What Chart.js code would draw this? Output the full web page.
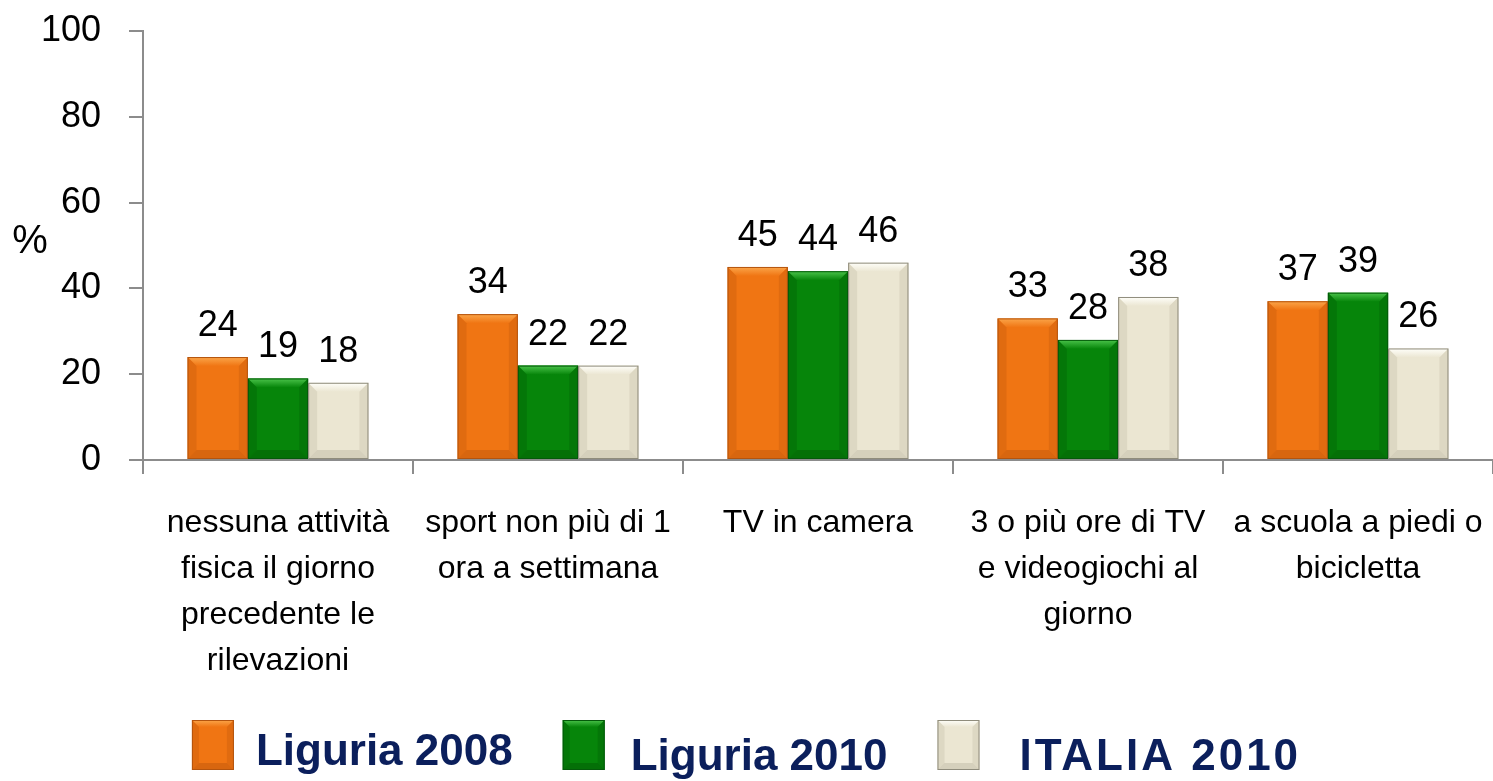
<!DOCTYPE html>
<html>
<head>
<meta charset="utf-8">
<script src="https://cdn.jsdelivr.net/npm/chart.js@4.4.0/dist/chart.umd.min.js"></script>
<style>
  html, body { margin: 0; padding: 0; background: #fff; }
  #wrap { width: 1493px; height: 781px; position: relative; }
</style>
</head>
<body>
<div id="wrap"><canvas id="grafico"></canvas></div>
<script>
const categorie = [
  ["nessuna attività", "fisica il giorno", "precedente le", "rilevazioni"],
  ["sport non più di 1", "ora a settimana"],
  ["TV in camera"],
  ["3 o più ore di TV", "e videogiochi al", "giorno"],
  ["a scuola a piedi o", "bicicletta"]
];
const serie = ["Liguria 2008", "Liguria 2010", "ITALIA 2010"];
const liguria2008 = [24, 34, 45, 33, 37];
const liguria2010 = [19, 22, 44, 28, 39];
const italia2010 = [18, 22, 46, 38, 26];
const yTicks = [0, 20, 40, 60, 80, 100];

// colori: pieno, luce (bordo alto), ombra (bordo basso), contorno
const colori = [
  { fill: "#F07513", light: "#FBA64A", dark: "#C45A0C", border: "#B4540E" },
  { fill: "#06850A", light: "#4BC44B", dark: "#035F05", border: "#04590A" },
  { fill: "#EBE6D2", light: "#FFFFFA", dark: "#C2BEAA", border: "#8F8C7C" }
];

const ASSE = "#8C8C8C";
const FONT = "'Liberation Sans', Arial, sans-serif";

function bevel(ctx, l, t, r, b, c, s) {
  if (b - t < s * 2) s = (b - t) / 2;
  ctx.save();
  // alto
  ctx.beginPath();
  ctx.moveTo(l, t); ctx.lineTo(r, t); ctx.lineTo(r - s, t + s); ctx.lineTo(l + s, t + s); ctx.closePath();
  const g = ctx.createLinearGradient(0, t, 0, t + s);
  g.addColorStop(0, c.light); g.addColorStop(1, c.fill);
  ctx.fillStyle = g; ctx.fill();
  // basso
  ctx.beginPath();
  ctx.moveTo(l, b); ctx.lineTo(r, b); ctx.lineTo(r - s, b - s); ctx.lineTo(l + s, b - s); ctx.closePath();
  ctx.globalAlpha = 0.55; ctx.fillStyle = c.dark; ctx.fill();
  // lati
  ctx.globalAlpha = 0.35;
  ctx.beginPath();
  ctx.moveTo(l, t); ctx.lineTo(l + s, t + s); ctx.lineTo(l + s, b - s); ctx.lineTo(l, b); ctx.closePath(); ctx.fill();
  ctx.beginPath();
  ctx.moveTo(r, t); ctx.lineTo(r - s, t + s); ctx.lineTo(r - s, b - s); ctx.lineTo(r, b); ctx.closePath(); ctx.fill();
  ctx.globalAlpha = 1;
  ctx.strokeStyle = c.border; ctx.lineWidth = 1;
  ctx.strokeRect(l + 0.5, t + 0.5, r - l - 1, b - t - 1);
  ctx.restore();
}

const pluginBarre = {
  id: "barre",
  afterDatasetsDraw(chart) {
    const ctx = chart.ctx;
    chart.data.datasets.forEach((ds, i) => {
      chart.getDatasetMeta(i).data.forEach((el, j) => {
        const p = el.getProps(["x", "y", "base", "width"], true);
        bevel(ctx, p.x - p.width / 2, p.y, p.x + p.width / 2, p.base, colori[i], 9);
        ctx.save();
        ctx.fillStyle = "#000";
        ctx.font = "36px " + FONT;
        ctx.textAlign = "center";
        ctx.textBaseline = "alphabetic";
        ctx.fillText(ds.data[j], p.x, p.y - 21);
        ctx.restore();
      });
    });
  }
};

const pluginPercento = {
  id: "percento",
  afterDraw(chart) {
    const ctx = chart.ctx, a = chart.chartArea;
    ctx.save();
    ctx.fillStyle = "#000";
    ctx.font = "40px " + FONT;
    ctx.textAlign = "center";
    ctx.textBaseline = "middle";
    ctx.fillText("%", 30, (a.top + a.bottom) / 2 - 4);
    ctx.restore();
  }
};

const pluginLegenda = {
  id: "legenda",
  afterDraw(chart) {
    const ctx = chart.ctx;
    const boxW = 42, boxH = 50, gapVoci = 50;
    const gapTesto = [22, 26, 40];
    const spaziatura = ["0px", "0px", "3px"];
    const scarto = [0, 5, 5];
    ctx.save();
    ctx.font = "bold 44px " + FONT;
    const larghezze = serie.map((s, i) => {
      ctx.letterSpacing = spaziatura[i];
      return boxW + gapTesto[i] + ctx.measureText(s).width;
    });
    const totale = larghezze.reduce((a, b) => a + b, 0) + gapVoci * (serie.length - 1);
    let x = (chart.width - totale) / 2;
    const top = chart.height - 61;
    serie.forEach((s, i) => {
      ctx.fillStyle = colori[i].fill;
      ctx.fillRect(x, top, boxW, boxH);
      bevel(ctx, x, top, x + boxW, top + boxH, colori[i], 7);
      ctx.fillStyle = "#0B1F5C";
      ctx.font = "bold 44px " + FONT;
      ctx.letterSpacing = spaziatura[i];
      ctx.textAlign = "left";
      ctx.textBaseline = "alphabetic";
      ctx.fillText(s, x + boxW + gapTesto[i], top + 45 + scarto[i]);
      x += larghezze[i] + gapVoci;
    });
    ctx.restore();
  }
};

function renderGrafico() {
  const ctx = document.getElementById("grafico").getContext("2d");
  const valori = [liguria2008, liguria2010, italia2010];

  new Chart(ctx, {
    type: "bar",
    data: {
      labels: categorie,
      datasets: serie.map((s, i) => ({
        label: s,
        data: valori[i],
        backgroundColor: colori[i].fill,
        borderWidth: 0
      }))
    },
    options: {
      responsive: true,
      maintainAspectRatio: false,
      animation: false,
      layout: { padding: { top: 31, right: 0, bottom: 101, left: 0 } },
      datasets: { bar: { categoryPercentage: 0.67, barPercentage: 1 } },
      plugins: {
        legend: { display: false },
        tooltip: { enabled: false }
      },
      scales: {
        x: {
          afterFit(s) { s.height = 220; s.paddingLeft = 0; s.paddingRight = 0; },
          grid: { drawOnChartArea: false, drawTicks: true, tickLength: 14, color: ASSE, lineWidth: 2 },
          border: { color: ASSE, width: 2 },
          ticks: {
            color: "#000",
            padding: 26,
            maxRotation: 0,
            autoSkip: false,
            font: { family: FONT, size: 32, lineHeight: 1.44 }
          }
        },
        y: {
          min: 0,
          max: 100,
          afterFit(s) { s.width = 143; s.paddingTop = 0; s.paddingBottom = 0; },
          afterBuildTicks(s) { s.ticks = yTicks.map(v => ({ value: v })); },
          grid: { drawOnChartArea: false, drawTicks: true, tickLength: 14, color: ASSE, lineWidth: 2 },
          border: { color: ASSE, width: 2 },
          ticks: {
            color: "#000",
            padding: 28,
            font: { family: FONT, size: 36 }
          }
        }
      }
    },
    plugins: [pluginBarre, pluginPercento, pluginLegenda]
  });
}

renderGrafico();
</script>
</body>
</html>
